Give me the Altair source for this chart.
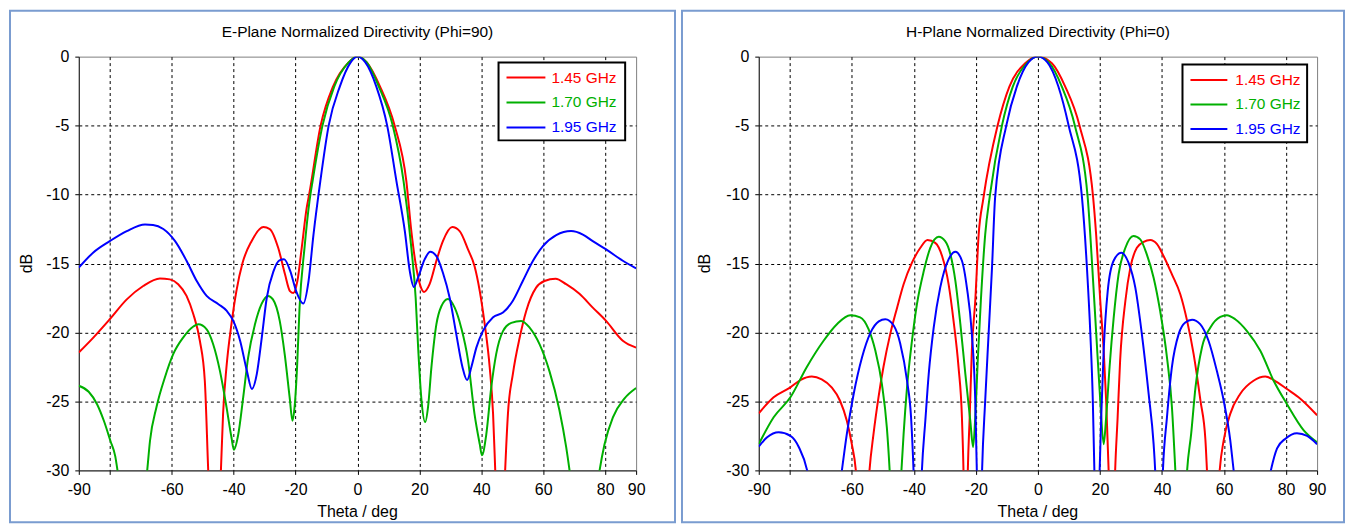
import altair as alt
import pandas as pd

FREQS = ["1.45 GHz", "1.70 GHz", "1.95 GHz"]
COLORS = ["#ff0000", "#00b000", "#0000ff"]

# ---------------- E-plane (Phi=90) ----------------
E145_T = [-90, -85.3, -80, -74.5, -69.2, -63.8, -60.6, -57.9, -55.2, -53.0, -50.9, -49.3, -48.2, -46.3, -44.1,
          -43.4, -42.3, -40.7, -39.1, -37.1, -34.2, -30.4, -28.3, -25.6, -23.4, -21.8, -20.7, -19.4, -18.0,
          -16.4, -15.6, -11.9, -7.9, -3.0, 0, 3.0, 7.3, 12.0, 15.8, 17.4, 19.0, 20.3, 21.5, 23.3, 25.5, 27.6,
          30.6, 33.0, 35.7, 37.8, 39.5, 41.1, 42.7, 43.8, 44.5, 46.1, 47.7, 48.6, 50.2, 52.4, 54.5, 57.7, 60.4,
          64.0, 67.4, 71.7, 76.0, 80.3, 85.7, 90]
E145_D = [-21.45, -20.37, -19.04, -17.6, -16.63, -16.08, -16.15, -16.5, -17.35, -18.68, -20.6, -23.5, -30, -40, -30,
          -25.9, -22.5, -19.4, -17.0, -14.95, -13.38, -12.36, -12.5, -13.86, -15.78, -17.0, -17.14, -16.27, -13.86,
          -10.97, -10.0, -5.0, -2.17, -0.45, 0, -0.42, -2.17, -5.0, -9.04, -12.65, -15.3, -16.6, -17.06, -16.5, -14.8, -13.38,
          -12.36, -12.65, -13.98, -15.18, -17.0, -19.4, -22.5, -25.9, -30, -40, -30, -25.9, -23.0, -20.37, -18.44, -16.75, -16.27,
          -16.1, -16.5, -17.2, -18.2, -19.16, -20.6, -21.1]

E170_T = [-90, -86.8, -84.1, -81.9, -79.8, -78.2, -77.5, -72.7, -67.9, -67.0, -64.9, -62.2, -59.5, -56.3, -53.0,
          -51.4, -48.7, -46.6, -44.4, -42.3, -40.7, -39.9, -38.5, -36.9, -35.3, -33.1, -31.0, -28.9, -27.3, -25.1,
          -23.5, -21.9, -21.0, -20.3, -19.5, -18.7, -17.1, -15.5, -14.5, -11.3, -7.5, -3.0, 0, 3.0, 6.9, 11.4, 14.9,
          17.4, 18.8, 19.6, 20.6, 21.9, 22.8, 23.9, 25.5, 27.1, 29.2, 31.4, 33.5, 35.7, 37.8, 39.5, 40.2, 41.6, 43.2,
          44.8, 47.0, 49.7, 52.9, 55.6, 58.8, 62.0, 65.2, 67.4, 68.5, 73.3, 78.2, 79.8, 82.5, 86.2, 90]
E170_D = [-23.86, -24.3, -25.2, -26.4, -27.85, -29.0, -30, -40, -30, -27.85, -25.4, -23.26, -21.57, -20.37, -19.57,
          -19.41, -19.77, -20.85, -22.8, -25.4, -27.6, -28.5, -27.4, -24.7, -21.8, -19.41, -17.95, -17.35, -17.6, -19.16,
          -21.57, -24.7, -26.4, -25.4, -22.5, -18.2, -13.86, -10.5, -9.04, -5.0, -2.17, -0.45, 0, -0.42, -2.17, -5.0, -9.04,
          -13.86, -17.5, -21.1, -24.7, -26.5, -25.4, -22.5, -19.4, -18.1, -17.57, -18.2, -19.65, -22.0, -25.9, -28.1, -28.9, -27.4, -24.0,
          -21.57, -19.9, -19.3, -19.16, -19.65, -20.85, -22.8, -25.6, -28.3, -30, -40, -30, -28.1, -26.15, -24.8, -24.03]

E195_T = [-90, -85.3, -80, -74.5, -68.6, -66.0, -62.7, -58.9, -55.2, -51.9, -48.7, -44.9, -42.2, -40.1, -37.9,
          -35.7, -34.1, -32.5, -30.9, -29.3, -27.1, -25.2, -23.7, -21.7, -19.8, -17.5, -15.8, -14.2, -12.0, -9.3,
          -5.7, -2.3, 0, 2.5, 6.1, 9.6, 12.6, 15.3, 16.9, 18.2, 19.6, 21.7, 23.5, 25.5, 27.6, 29.8, 31.9, 33.9, 35.4,
          36.8, 38.4, 40.5, 43.8, 47.0, 50.2, 53.4, 56.7, 59.9, 64.2, 69.0, 72.8, 76.0, 80.3, 85.7, 90]
E195_D = [-15.3, -14.2, -13.38, -12.65, -12.17, -12.2, -12.5, -13.38, -14.8, -16.27, -17.35, -17.95, -18.44, -19.16, -20.6,
          -22.8, -24.1, -23.0, -20.37, -17.5, -15.55, -14.77, -14.7, -15.55, -17.0, -17.9, -16.27, -12.9, -9.04, -5.0,
          -2.17, -0.45, 0, -0.4, -2.17, -5.0, -9.04, -12.65, -15.55, -16.7, -16.0, -14.7, -14.15, -14.46, -15.67, -17.5, -20.1, -22.5, -23.45,
          -22.5, -21.1, -19.9, -18.9, -18.56, -17.7, -16.27, -14.8, -13.74, -12.94, -12.65, -12.9, -13.38, -13.98, -14.8, -15.35]

# ---------------- H-plane (Phi=0) ----------------
H145_T = [-90, -85.2, -79.8, -76.6, -72.9, -69.7, -66.5, -63.8, -61.6, -60.0, -58.7, -56.5, -54.3, -53.0, -51.4,
          -49.8, -47.6, -45.4, -43.3, -40.6, -37.9, -35.6, -33.1, -30.9, -28.8, -27.2, -25.6, -24.5, -24.0, -23.3,
          -22.6, -22.0, -21.3, -20.2, -19.1, -17.6, -13.0, -9.2, -4.1, 0, 4.5, 8.8, 13.4, 17.8, 18.8, 20.1, 21.2,
          22.0, 22.8, 23.8, 24.9, 25.7, 26.5, 28.2, 29.8, 31.9, 34.1, 36.2, 38.4, 40.5, 43.2, 45.9, 48.1, 50.2,
          52.4, 54.0, 54.5, 56.5, 58.6, 59.9, 62.0, 65.2, 69.5, 73.3, 77.1, 80.3, 84.6, 90]
H145_D = [-25.86, -24.7, -23.98, -23.45, -23.19, -23.4, -23.98, -24.95, -26.4, -28.1, -30, -40, -30, -27.35, -24.7,
          -22.5, -20.1, -18.2, -16.5, -14.94, -13.86, -13.3, -13.5, -14.46, -16.5, -19.16, -22.5, -26.15, -30, -40,
          -30, -26.15, -21.3, -17.7, -12.9, -10.3, -5.0, -2.17, -0.48, 0, -0.48, -2.17, -5.0, -10.2, -13.0, -17.7, -21.3,
          -24.95, -30, -40, -30, -26.15, -22.05, -17.7, -15.3, -13.86, -13.43, -13.3, -13.6, -14.46, -15.79, -17.23, -19.16, -21.57,
          -24.95, -27.8, -30, -40, -30, -27.8, -25.9, -24.46, -23.5, -23.2, -23.6, -24.1, -24.8, -26.0]

H170_T = [-90, -85.2, -79.8, -74.5, -69.1, -64.8, -60.5, -57.3, -54.6, -52.4, -50.3, -48.7, -47.8, -45.9, -44.0,
          -43.3, -42.2, -40.6, -39.0, -36.8, -34.7, -32.0, -29.9, -28.2, -26.6, -25.0, -23.4, -21.8, -20.9, -20.2,
          -19.4, -18.4, -17.0, -15.5, -11.6, -8.1, -3.5, 0, 3.5, 7.7, 11.9, 16.0, 17.4, 18.8, 20.1, 21.2, 22.0, 23.1,
          24.4, 26.0, 28.2, 30.8, 33.0, 35.1, 37.3, 39.4, 41.6, 43.2, 44.3, 46.2, 48.1, 49.4, 50.8, 52.9, 55.6, 58.8,
          60.9, 63.6, 67.4, 71.7, 76.0, 80.3, 85.7, 90]
H170_D = [-28.1, -26.15, -24.7, -22.5, -20.6, -19.4, -18.75, -18.9, -19.76, -21.33, -23.74, -26.9, -30, -40, -30,
          -27.35, -23.98, -20.6, -17.95, -15.55, -13.86, -13.06, -13.37, -14.34, -16.27, -19.4, -23.0, -26.4, -28.3, -26.15,
          -22.05, -17.7, -12.9, -10.1, -5.0, -2.17, -0.45, 0, -0.42, -2.17, -5.0, -10.1, -14.8, -20.1, -24.95, -28.1, -26.15, -22.5,
          -19.0, -15.79, -13.86, -13.0, -13.25, -14.34, -16.03, -18.44, -21.8, -25.4, -30, -40, -30, -27.35, -23.98, -21.07, -19.64, -18.87,
          -18.75, -19.04, -19.9, -21.33, -23.5, -25.2, -27.1, -27.97]

H195_T = [-90, -87.3, -83.6, -79.8, -77.1, -74.4, -69.0, -63.2, -61.6, -59.4, -56.7, -54.0, -51.3, -49.2, -46.5,
          -44.4, -42.2, -40.9, -40.1, -38.8, -37.4, -36.3, -35.2, -33.6, -31.5, -28.8, -26.6, -24.5, -22.9, -21.3,
          -20.2, -19.7, -18.9, -18.0, -17.0, -15.9, -14.8, -13.8, -10.2, -6.8, -3.0, 0, 3.0, 6.6, 9.9, 14.2, 15.8,
          16.9, 17.7, 18.2, 19.0, 19.9, 20.4, 21.2, 22.5, 24.4, 26.9, 29.2, 31.4, 33.5, 35.7, 37.3, 37.8, 39.0, 40.3,
          41.6, 43.2, 45.4, 47.5, 49.7, 52.3, 55.0, 57.7, 59.9, 62.0, 63.1, 69.0, 75.1, 77.1, 79.8, 83.5, 86.8, 90]
H195_D = [-28.27, -27.6, -27.24, -27.5, -28.3, -30, -40, -30, -27.35, -24.46, -21.8, -20.03, -19.2, -19.04, -19.5,
          -20.8, -23.5, -26.15, -30, -40, -30, -26.4, -23.0, -19.64, -16.75, -14.7, -14.15, -14.8, -16.75, -20.1,
          -24.95, -30, -40, -30, -24.95, -20.1, -15.3, -10.2, -5.0, -2.17, -0.4, 0, -0.4, -2.17, -5.0, -10.2, -15.3,
          -20.1, -24.95, -30, -40, -30, -26.15, -21.3, -17.0, -14.8, -14.22, -14.94, -16.75, -20.1, -24.46, -28.1, -30, -40, -30,
          -26.15, -22.5, -20.1, -19.28, -19.08, -19.4, -20.6, -22.8, -24.95, -27.8, -30, -40, -30, -28.4, -27.7, -27.3, -27.5, -28.1]

X_TICKS = [-90, -80, -60, -40, -20, 0, 20, 40, 60, 80, 90]
Y_TICKS = [0, -5, -10, -15, -20, -25, -30]

FONT = "Liberation Sans"
H = 415


def long_df(series):
    rows = []
    for k, (ts, ds) in enumerate(series):
        for t, d in zip(ts, ds):
            rows.append({"theta": t, "dB": d, "freq": FREQS[k], "k": k})
    return pd.DataFrame(rows)


def panel(title, series, width, leg, frame):
    df = long_df(series)
    cscale = alt.Scale(domain=FREQS, range=COLORS)
    lines = alt.Chart(df).mark_line(clip=True, strokeWidth=2, interpolate="monotone").encode(
        x=alt.X("theta:Q",
                scale=alt.Scale(domain=[-90, 90], nice=False, zero=False),
                axis=alt.Axis(values=X_TICKS, title=None,
                              labelExpr="datum.value == -80 ? '' : '' + datum.value",
                              labelFlush=False, labelOverlap=False,
                              gridColor={"condition": {"test": "abs(datum.value) == 90", "value": "transparent"},
                                         "value": "#000000"},
                              labelPadding=7)),
        y=alt.Y("dB:Q",
                scale=alt.Scale(domain=[-30, 0], nice=False, zero=False),
                axis=alt.Axis(values=Y_TICKS, title=None,
                              labelExpr="'' + datum.value",
                              labelFlush=False, labelOverlap=False,
                              gridColor={"condition": {"test": "datum.value == 0 || datum.value == -30",
                                                       "value": "transparent"},
                                         "value": "#000000"},
                              labelPadding=6)),
        color=alt.Color("freq:N", scale=cscale, legend=None),
        order=alt.Order("theta:Q"),
        detail="k:N",
    )

    one = pd.DataFrame({"a": [0]})
    layers = [lines]

    # legend box
    bx0, bx1, by0, by1, lx0, lx1, tx, rows = leg
    layers.append(alt.Chart(one).mark_rect(fill="white", stroke="black", strokeWidth=2).encode(
        x=alt.value(bx0), x2=alt.value(bx1), y=alt.value(by0), y2=alt.value(by1)))
    for f, c, ry in zip(FREQS, COLORS, rows):
        layers.append(alt.Chart(one).mark_rule(color=c, strokeWidth=2).encode(
            x=alt.value(lx0), x2=alt.value(lx1), y=alt.value(ry)))
        layers.append(alt.Chart(one).mark_text(text=f, color=c, align="left", baseline="middle",
                                               font=FONT, fontSize=15.5).encode(
            x=alt.value(tx), y=alt.value(ry)))

    # titles
    layers.append(alt.Chart(one).mark_text(text=title, align="center", baseline="middle",
                                           font=FONT, fontSize=15.5, color="#000000").encode(
        x=alt.value(width / 2), y=alt.value(-25)))
    layers.append(alt.Chart(one).mark_text(text="Theta / deg", align="center", baseline="middle",
                                           font=FONT, fontSize=16, color="#000000").encode(
        x=alt.value(width / 2), y=alt.value(457)))
    layers.append(alt.Chart(one).mark_text(text="dB", align="center", baseline="middle", angle=270,
                                           font=FONT, fontSize=16, color="#000000").encode(
        x=alt.value(frame[4]), y=alt.value(H / 2)))

    # window frame
    fx0, fx1, fy0, fy1, _ = frame
    layers.append(alt.Chart(one).mark_rect(fill="transparent", stroke="#7a9cd0", strokeWidth=2).encode(
        x=alt.value(fx0), x2=alt.value(fx1), y=alt.value(fy0), y2=alt.value(fy1)))

    return alt.layer(*layers).properties(width=width, height=H)


left = panel("E-Plane Normalized Directivity (Phi=90)",
             [(E145_T, E145_D), (E170_T, E170_D), (E195_T, E195_D)],
             559,
             (421, 548, 6, 84, 429, 468, 474, [21, 46, 71]),
             (-69, 598, -46, 467, -52))
right = panel("H-Plane Normalized Directivity (Phi=0)",
              [(H145_T, H145_D), (H170_T, H170_D), (H195_T, H195_D)],
              560,
              (425, 550, 8, 86, 433, 470, 478, [23.5, 48, 72.5]),
              (-77, 587, -46, 467, -54))

chart = alt.hconcat(left, right, spacing=3).properties(padding=0).configure_view(
    stroke="#808080", strokeWidth=1
).configure_axis(
    labelFont=FONT, labelFontSize=16, labelColor="#000000",
    tickSize=4, tickColor="#000000", domainColor="#202020", domainWidth=1,
    gridDash=[3, 3], gridWidth=1, gridOpacity=1,
).configure_concat(spacing=3)

chart.save("out.html", embed_options={"renderer": "svg", "actions": False})
